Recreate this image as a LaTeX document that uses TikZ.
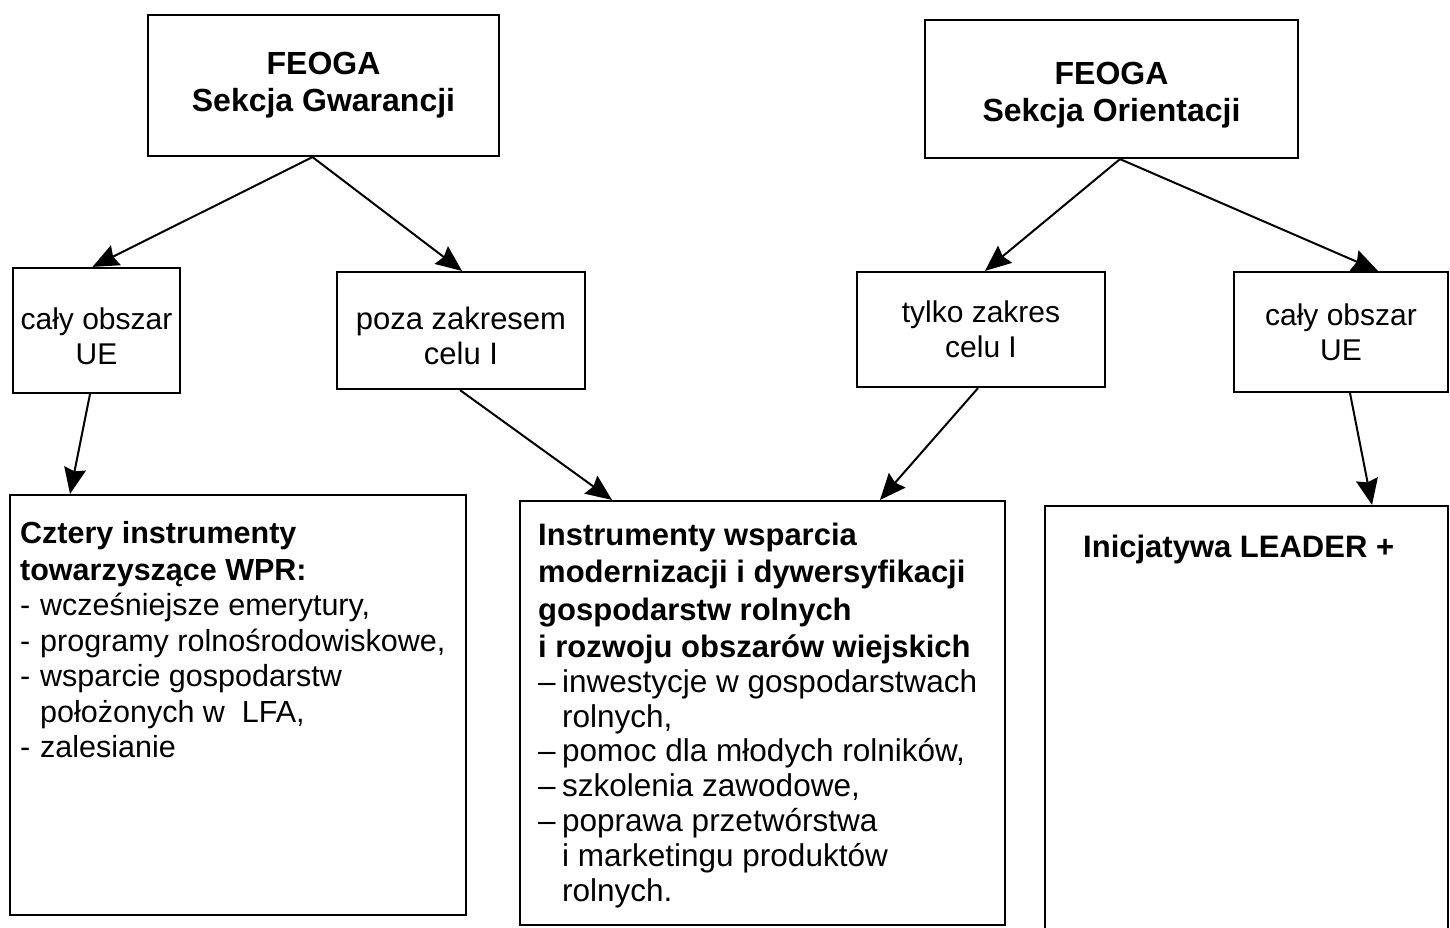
\documentclass[tikz,border=0pt]{standalone}
\usepackage{fontspec}
\setmainfont{Liberation Sans}
\usetikzlibrary{arrows.meta,calc}
\newcommand\dashL{\makebox[20pt][l]{-}}
\newcommand\dashM{\makebox[24pt][l]{--}}
\newcommand\lowerby[1]{\rule{0pt}{#1}}
\begin{document}
\begin{tikzpicture}[x=1pt,y=-1pt,
  box/.style={draw, line width=2.2pt, rectangle, inner sep=0pt},
  topbox/.style={box, align=center, font=\fontsize{32}{37}\selectfont\bfseries},
  midbox/.style={box, align=center, font=\fontsize{30}{35}\selectfont},
  txt/.style={inner sep=0pt, anchor=base west},
  arr/.style={line width=2pt, -{Stealth[length=26pt,width=22pt,inset=3pt]}}]
\useasboundingbox (0,0) rectangle (1450,927);
% top boxes
\node[topbox, minimum width=351pt, minimum height=141pt] (g) at (323.5,85.5) {FEOGA\\Sekcja Gwarancji};
\node[topbox, minimum width=373pt, minimum height=138pt] (o) at (1111.5,89) {\lowerby{35pt}FEOGA\\Sekcja Orientacji};
% middle boxes
\node[midbox, minimum width=167pt, minimum height=125pt] (l1) at (96.5,330.5) {\lowerby{34pt}cały obszar\\UE};
\node[midbox, minimum width=248pt, minimum height=117pt, font=\fontsize{31}{35}\selectfont] (l2) at (461,330.5) {\lowerby{34pt}poza zakresem\\celu I};
\node[midbox, minimum width=248pt, minimum height=115pt] (r1) at (981,329.5) {tylko zakres\\celu I};
\node[midbox, minimum width=214pt, minimum height=120pt] (r2) at (1341,332) {cały obszar\\UE};
% bottom boxes
\node[box, minimum width=456pt, minimum height=420pt] (b1) at (238,705) {};
\node[box, minimum width=485pt, minimum height=424pt] (b2) at (762.5,713) {};
\node[box, minimum width=403pt, minimum height=429pt] (b3) at (1246.5,720.5) {};
% bottom texts
\node[txt] (t1) at (20,543) {\parbox[t]{440pt}{\fontsize{30.5}{35.5}\selectfont
  \textbf{Cztery instrumenty}\\[1.5pt]
  \textbf{towarzyszące WPR:}\\
  \dashL wcześniejsze emerytury,\\
  \dashL programy rolnośrodowiskowe,\\
  \dashL wsparcie gospodarstw\\
  \hspace*{20pt}położonych w\ \ LFA,\\
  \dashL zalesianie}};
\node[txt] (t2) at (538,545) {\parbox[t]{465pt}{\fontsize{31}{37.5}\selectfont
  \textbf{Instrumenty wsparcia}\\
  \textbf{modernizacji i dywersyfikacji}\\
  \textbf{gospodarstw rolnych}\\
  \textbf{i rozwoju obszarów wiejskich}\\[-2.7pt]
  {\fontsize{31.5}{37.5}\selectfont
  \dashM inwestycje w gospodarstwach\\[-2.7pt]
  \hspace*{24pt}rolnych,\\[-2.7pt]
  \dashM pomoc dla młodych rolników,\\[-2.7pt]
  \dashM szkolenia zawodowe,\\[-2.7pt]
  \dashM poprawa przetwórstwa\\[-2.7pt]
  \hspace*{24pt}i marketingu produktów\\[-2.7pt]
  \hspace*{24pt}rolnych.}}};
\node[txt, font=\fontsize{31}{37}\selectfont\bfseries] (t3) at (1083,557) {Inicjatywa LEADER +};
% arrows
\draw[arr] ([xshift=-11pt]g.south) -- ([xshift=-4pt]l1.north);
\draw[arr] ([xshift=-11pt]g.south) -- ([xshift=1pt]l2.north);
\draw[arr] ([xshift=8.5pt]o.south) -- ([xshift=4pt]r1.north);
\draw[arr] ([xshift=8.5pt]o.south) -- ([xshift=37pt]r2.north);
\draw[arr] ([xshift=-6.5pt]l1.south) -- ([xshift=-168pt]b1.north);
\draw[arr] ([xshift=-1pt]l2.south) -- ([xshift=-150.5pt]b2.north);
\draw[arr] ([xshift=-3pt]r1.south) -- ([xshift=117.5pt]b2.north);
\draw[arr] ([xshift=9pt]r2.south) -- ([xshift=125.5pt]b3.north);
\end{tikzpicture}
\end{document}
